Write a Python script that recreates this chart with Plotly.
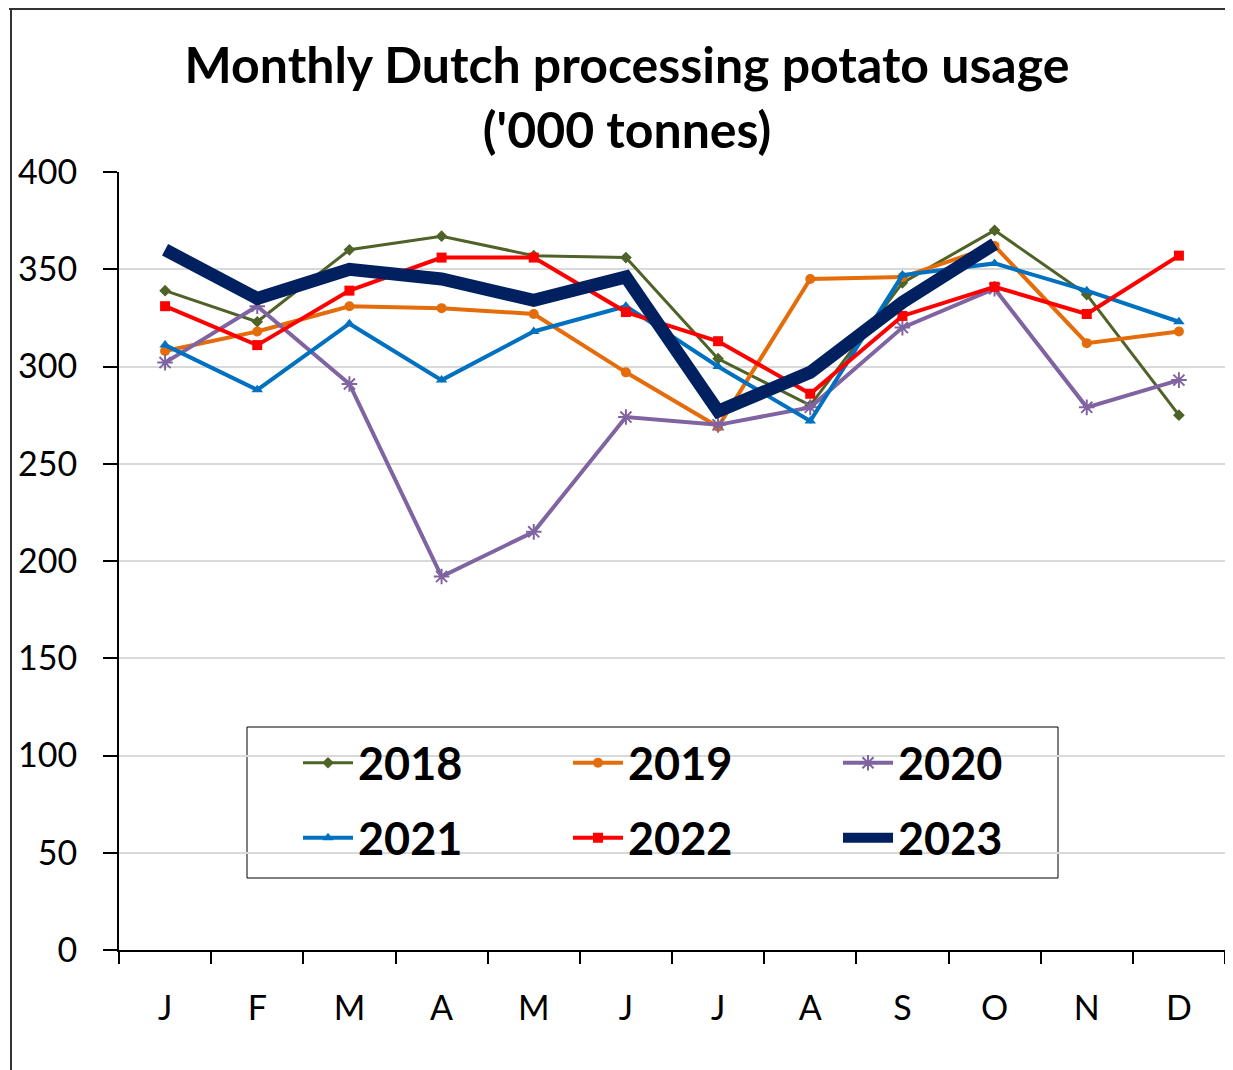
import plotly.graph_objs as go

MONTHS = ["J", "F", "M", "A", "M", "J", "J", "A", "S", "O", "N", "D"]
# month labels repeat, so the axis runs on the month index
MONTH_IDX = list(range(12))

usage_2018 = [339, 323, 360, 367, 357, 356, 304, 280, 343, 370, 337, 275]
usage_2019 = [308, 318, 331, 330, 327, 297, 269, 345, 346, 362, 312, 318]
usage_2020 = [302, 331, 291, 192, 215, 274, 270, 279, 320, 340, 279, 293]
usage_2021 = [311, 288, 322, 293, 318, 331, 300, 272, 347, 353, 339, 323]
usage_2022 = [331, 311, 339, 356, 356, 328, 313, 286, 326, 341, 327, 357]
usage_2023 = [360, 335, 350, 345, 334, 346, 277, 297, 333, 363]

FONT = "Lato"

# name, values, colour, line width, marker, legend row
series = [
    ("2018", usage_2018, "#4f6228", 3, dict(symbol="diamond", size=9), "legend"),
    ("2019", usage_2019, "#e46c0a", 4, dict(symbol="circle", size=10), "legend"),
    ("2020", usage_2020, "#8064a2", 4, dict(symbol="asterisk-open", size=13,
                                           line=dict(width=2, color="#8064a2")), "legend"),
    ("2021", usage_2021, "#0070c0", 4, dict(symbol="triangle-up", size=10), "legend2"),
    ("2022", usage_2022, "#ff0000", 4, dict(symbol="square", size=10), "legend2"),
]

fig = go.Figure()

for name, values, color, width, marker, legend in series:
    fig.add_trace(go.Scatter(
        x=MONTH_IDX[:len(values)],
        y=values,
        name="<b>{}</b>".format(name),
        mode="lines+markers",
        line=dict(color=color, width=width),
        marker=dict(color=color, **marker),
        legend=legend
    ))

fig.add_trace(go.Scatter(
    x=MONTH_IDX[:len(usage_2023)],
    y=usage_2023,
    name="<b>2023</b>",
    mode="lines",
    line=dict(color="#002060", width=13),
    legend="legend2"
))

# the page puts the figure 8 px in from the window corner
OFFSET = 8
# plot area in window pixels: x 119..1225, y 172..950
plot_w = 1106.0
plot_h = 778.0


def px_x(px):
    return (px - 119) / plot_w


def px_y(py):
    return (950 - py) / plot_h


def legend_row(top):
    return dict(
        orientation="h",
        x=px_x(298),
        y=px_y(top),
        xanchor="left",
        yanchor="top",
        bgcolor="rgba(0,0,0,0)",
        borderwidth=0,
        itemwidth=50,
        entrywidth=205,
        entrywidthmode="pixels",
        font=dict(family=FONT, size=45, color="black")
    )


# outer frame, only top and left edges show in the original
frame = dict(color="#333333", width=2)
shapes = [
    dict(type="line", xref="paper", yref="paper", x0=px_x(9), x1=px_x(1240),
         y0=px_y(9), y1=px_y(9), line=frame),
    dict(type="line", xref="paper", yref="paper", x0=px_x(11), x1=px_x(11),
         y0=px_y(9), y1=px_y(1080), line=frame),
    # legend box, drawn over the gridlines
    dict(type="rect", xref="paper", yref="paper", layer="between",
         x0=px_x(247), x1=px_x(1058), y0=px_y(878), y1=px_y(727),
         fillcolor="white", line=dict(color="black", width=1)),
]

fig.update_layout(
    width=1233 - OFFSET,
    height=1070 - OFFSET,
    margin=dict(l=119 - OFFSET, r=8, t=172 - OFFSET, b=120),
    paper_bgcolor="white",
    plot_bgcolor="white",
    font=dict(family=FONT, color="black"),
    title=dict(
        text="<b>Monthly Dutch processing potato usage<br>('000 tonnes)</b>",
        font=dict(family=FONT, size=50, color="black"),
        xref="container", x=(627 - OFFSET) / 1225.0, xanchor="center",
        yref="container", y=1 - 75 / 1062.0, yanchor="middle"
    ),
    xaxis=dict(
        range=[-0.5, 11.5],
        tickmode="array",
        tickvals=MONTH_IDX,
        ticktext=MONTHS,
        showgrid=False,
        zeroline=False,
        showline=True,
        linecolor="black",
        linewidth=2,
        ticks="",
        tickfont=dict(family=FONT, size=34, color="black"),
        ticklabelstandoff=27
    ),
    xaxis2=dict(
        overlaying="x",
        range=[-0.5, 11.5],
        tickmode="array",
        tickvals=[i - 0.5 for i in range(13)],
        showticklabels=False,
        showgrid=False,
        zeroline=False,
        ticks="outside",
        ticklen=13,
        tickwidth=2,
        tickcolor="black",
        anchor="y",
        side="bottom"
    ),
    yaxis=dict(
        range=[0, 400],
        tickmode="linear",
        tick0=0,
        dtick=50,
        showgrid=True,
        gridcolor="#d9d9d9",
        gridwidth=2,
        zeroline=False,
        showline=True,
        linecolor="black",
        linewidth=2,
        ticks="outside",
        ticklen=14,
        tickwidth=2,
        tickcolor="black",
        tickfont=dict(family=FONT, size=34, color="black"),
        ticklabelstandoff=19
    ),
    legend=legend_row(727),
    legend2=legend_row(802),
    shapes=shapes,
    showlegend=True
)

# empty trace carrying the boundary ticks on the second x axis
fig.add_trace(go.Scatter(x=[0], y=[None], xaxis="x2", showlegend=False,
                         hoverinfo="skip"))

fig.write_html("out.html")
